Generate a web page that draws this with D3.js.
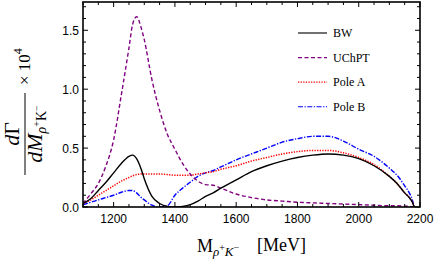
<!DOCTYPE html>
<html lang="en">
  <head>
    <meta charset="UTF-8" />
    <title>Decay width</title>
    <style>
      body { margin: 0; background: #fff; }
      svg { display: block; }
      .tick-label { font-family: "Liberation Sans", Arial, sans-serif; font-size: 12px; }
      .serif { font-family: "Liberation Serif", "Times New Roman", serif; }
    </style>
  </head>
  <body>
    <div id="chart"></div>
    <script src="https://d3js.org/d3.v7.min.js"></script>
    <script>
      // invariant mass grid (MeV)
      const mass = [1100, 1125, 1150, 1175, 1200, 1225, 1250, 1262, 1275, 1290, 1300, 1325, 1350,
        1375, 1400, 1425, 1450, 1475, 1500, 1525, 1550, 1600, 1650, 1700, 1750, 1800, 1850, 1900,
        1950, 2000, 2050, 2100, 2125, 2150, 2165, 2175, 2181];

      // dGamma/dM x 10^4
      const bw = [0.03, 0.07, 0.14, 0.21, 0.29, 0.37, 0.43, 0.44, 0.41, 0.32, 0.24, 0.09, 0.03,
        0.005, 0.0, 0.005, 0.02, 0.05, 0.09, 0.12, 0.16, 0.23, 0.3, 0.35, 0.39, 0.42, 0.44, 0.45,
        0.44, 0.41, 0.35, 0.26, 0.2, 0.12, 0.08, 0.04, 0];
      const uchpt = [0.03, 0.11, 0.2, 0.35, 0.57, 0.95, 1.35, 1.55, 1.615, 1.52, 1.42, 1.08, 0.82,
        0.62, 0.49, 0.37, 0.28, 0.22, 0.19, 0.185, 0.16, 0.11, 0.08, 0.06, 0.05, 0.04, 0.035, 0.03,
        0.025, 0.02, 0.015, 0.01, 0.01, 0.007, 0.005, 0.003, 0];
      const poleA = [0.03, 0.06, 0.1, 0.14, 0.18, 0.22, 0.25, 0.265, 0.275, 0.28, 0.28, 0.28, 0.28,
        0.275, 0.27, 0.27, 0.27, 0.28, 0.29, 0.3, 0.32, 0.35, 0.39, 0.42, 0.45, 0.47, 0.48, 0.48,
        0.46, 0.42, 0.36, 0.26, 0.2, 0.12, 0.08, 0.04, 0];
      const poleB = [0.02, 0.04, 0.06, 0.08, 0.1, 0.125, 0.14, 0.14, 0.12, 0.08, 0.06, 0.015, 0.0,
        0.01, 0.1, 0.16, 0.21, 0.26, 0.29, 0.31, 0.34, 0.4, 0.45, 0.5, 0.55, 0.58, 0.6, 0.6,
        0.56, 0.49, 0.43, 0.33, 0.27, 0.18, 0.12, 0.06, 0];

      const seriesNames = ["BW", "UChPT", "Pole A", "Pole B"];
      const xTicks = [1200, 1400, 1600, 1800, 2000, 2200];
      const yTicks = [0, 0.5, 1.0, 1.5];

      const width = 437, height = 261;
      const margin = { top: 2, right: 17, bottom: 54, left: 83 };

      const svg = d3.select("#chart").append("svg")
        .attr("width", width).attr("height", height);

      const x = d3.scaleLinear().domain([1100, 2200]).range([margin.left, width - margin.right]);
      const y = d3.scaleLinear().domain([0, 1.74]).range([height - margin.bottom, margin.top]);

      const styles = [
        { data: bw, color: "#000", dash: null, w: 1.4 },
        { data: uchpt, color: "#800080", dash: "4,2.5", w: 1.4 },
        { data: poleA, color: "#ff0000", dash: "1.3,1.3", w: 1.5 },
        { data: poleB, color: "#0000ff", dash: "5,1.5,1.3,1.5", w: 1.4 }
      ];

      const line = d3.line()
        .x((d) => x(d[0]))
        .y((d) => y(d[1]))
        .curve(d3.curveMonotoneX);

      const plot = svg.append("g");
      plot.append("clipPath").attr("id", "clip").append("rect")
        .attr("x", margin.left).attr("y", margin.top)
        .attr("width", width - margin.left - margin.right)
        .attr("height", height - margin.top - margin.bottom);

      // draw in reverse so BW sits on top
      styles.slice().reverse().forEach((s) => {
        plot.append("path")
          .datum(mass.map((m, i) => [m, s.data[i]]))
          .attr("clip-path", "url(#clip)")
          .attr("fill", "none")
          .attr("stroke", s.color)
          .attr("stroke-width", s.w)
          .attr("stroke-dasharray", s.dash)
          .attr("d", line);
      });

      // frame ticks (inward), Mathematica style
      const x0 = margin.left, x1 = width - margin.right;
      const y0 = height - margin.bottom, y1 = margin.top;
      const tk = svg.append("g").attr("stroke", "#000").attr("stroke-width", 1);
      d3.range(1100, 2201, 50).forEach((v) => {
        const major = v % 200 === 0;
        const len = major ? 5 : 3;
        tk.append("line").attr("x1", x(v)).attr("x2", x(v)).attr("y1", y0).attr("y2", y0 - len);
        tk.append("line").attr("x1", x(v)).attr("x2", x(v)).attr("y1", y1).attr("y2", y1 + len);
      });
      d3.range(0, 18).forEach((i) => {
        const v = i / 10;
        const major = i % 5 === 0;
        const len = major ? 5 : 3;
        tk.append("line").attr("x1", x0).attr("x2", x0 + len).attr("y1", y(v)).attr("y2", y(v));
        tk.append("line").attr("x1", x1).attr("x2", x1 - len).attr("y1", y(v)).attr("y2", y(v));
      });

      svg.append("rect")
        .attr("x", x0).attr("y", y1)
        .attr("width", x1 - x0).attr("height", y0 - y1)
        .attr("fill", "none").attr("stroke", "#000").attr("stroke-width", 1.6);

      // tick labels
      svg.selectAll(".xl").data(xTicks).enter().append("text")
        .attr("class", "tick-label")
        .attr("x", (d) => x(d)).attr("y", y0 + 16)
        .attr("text-anchor", "middle")
        .text((d) => d);
      svg.selectAll(".yl").data(yTicks).enter().append("text")
        .attr("class", "tick-label")
        .attr("x", x0 - 4).attr("y", (d) => y(d) + 4.5)
        .attr("text-anchor", "end")
        .text((d) => d.toFixed(1));

      // x axis title
      const xt = svg.append("text").attr("class", "serif")
        .attr("x", (x0 + x1) / 2).attr("y", 252)
        .attr("text-anchor", "middle").attr("font-size", 18);
      xt.append("tspan").text("M");
      xt.append("tspan").attr("font-size", 13).attr("font-style", "italic").attr("dy", 4).text("ρ");
      xt.append("tspan").attr("font-size", 10).attr("dy", -5).text("+");
      xt.append("tspan").attr("font-size", 13).attr("font-style", "italic").attr("dy", 5).text("K");
      xt.append("tspan").attr("font-size", 10).attr("dy", -5).text("−");
      xt.append("tspan").attr("dy", 0).text("\u2003[MeV]");

      // y axis title (rotated fraction)
      const yl = svg.append("g").attr("class", "serif")
        .attr("transform", "translate(25,134) rotate(-90)");
      yl.append("line").attr("x1", -41).attr("x2", 41).attr("y1", 0).attr("y2", 0)
        .attr("stroke", "#000").attr("stroke-width", 1);
      const num = yl.append("text").attr("x", 0).attr("y", -6)
        .attr("text-anchor", "middle").attr("font-size", 22);
      num.append("tspan").attr("font-style", "italic").text("d");
      num.append("tspan").text("Γ");
      const den = yl.append("text").attr("x", 0).attr("y", 17)
        .attr("text-anchor", "middle").attr("font-size", 22);
      den.append("tspan").attr("font-style", "italic").text("dM");
      den.append("tspan").attr("font-size", 14).attr("font-style", "italic").attr("dy", 4).text("ρ");
      den.append("tspan").attr("font-size", 10).attr("dy", -6).text("+");
      den.append("tspan").attr("font-size", 14).attr("dy", 6).text("K");
      den.append("tspan").attr("font-size", 10).attr("dy", -6).text("−");
      const pw = yl.append("text").attr("x", 49).attr("y", 5)
        .attr("font-size", 17);
      pw.append("tspan").text("× 10");
      pw.append("tspan").attr("font-size", 12).attr("dy", -8).text("4");

      // legend
      const lg = svg.append("g");
      styles.forEach((s, i) => {
        const ly = 33 + i * 24.6;
        lg.append("line")
          .attr("x1", 298).attr("x2", 327).attr("y1", ly).attr("y2", ly)
          .attr("stroke", s.color).attr("stroke-width", s.w * 0.8)
          .attr("stroke-dasharray", s.dash);
        lg.append("text").attr("class", "serif")
          .attr("x", 333).attr("y", ly + 4)
          .attr("font-size", 12)
          .text(seriesNames[i]);
      });
    </script>
  </body>
</html>
